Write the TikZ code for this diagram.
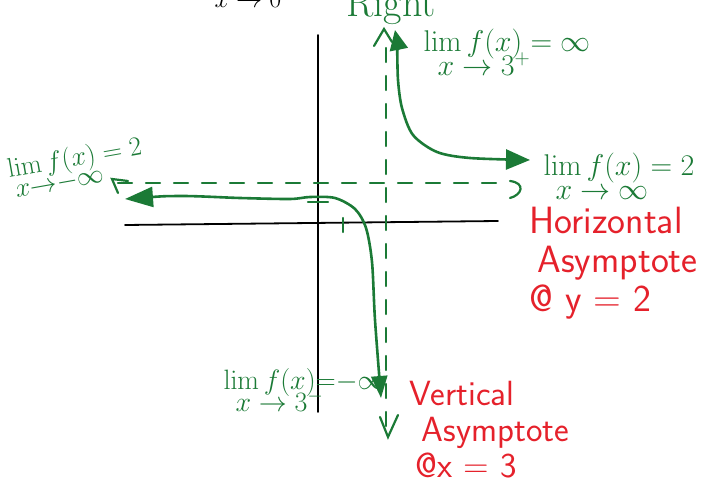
\RequirePackage{fix-cm}
\documentclass[tikz,border=0pt]{standalone}
\usepackage{tikz}
\usetikzlibrary{positioning,arrows.meta}
\definecolor{limgreen}{HTML}{1B7A36}
\definecolor{notered}{HTML}{E5212B}

\begin{document}
\begin{tikzpicture}[x=1pt,y=-1pt,line cap=round,
  lim/.style={limgreen,font=\fontsize{30}{32}\selectfont,align=left},
  asy/.style={limgreen,line width=2.4pt,dash pattern=on 14pt off 14pt},
  branch/.style={limgreen,line width=2.6pt},
  asynote/.style={notered,font=\fontsize{38}{39}\selectfont\sffamily,align=left,anchor=north west}]
\useasboundingbox (0,0) rectangle (722,494);
\draw[line width=1.8pt] (318,35)--(318,412); \draw[line width=1.8pt] (125,225)--(498,221);
\draw[asy] (118,183)--(510,183); \draw[asy] (386,48)--(386,432);
\draw[limgreen,line width=2.2pt] (510,181) .. controls (526,183) and (522,195) .. (510,198);
\draw[limgreen,line width=2.2pt] (128,181)--(112,179)--(118,193);
\draw[limgreen,line width=2.2pt] (374,46)--(384,29)--(392,42); \draw[limgreen,line width=2.2pt] (380,417)--(388,437)--(398,415);
\draw[limgreen,line width=2.2pt] (343,218)--(343,232) (308,202)--(328,202);
\draw[branch,{Triangle[length=28pt,width=20pt]}-{Triangle[length=22pt,width=16pt]}] plot[smooth] coordinates {(125,199) (180,196) (240,198) (290,199) (310,197) (335,198) (355,209) (366,228) (372,262) (375,320) (381,398)};
\draw[branch,{Triangle[length=20pt,width=18pt]}-{Triangle[length=24pt,width=20pt]}] plot[smooth] coordinates {(395,30) (397,45) (398,80) (402,108) (413,135) (437,152) (470,158) (530,160)};
\node (xzero) [anchor=base west,font=\fontsize{26}{28}\selectfont] at (211,8) {$x\to0$};
\node (right) [limgreen,anchor=base west,font=\fontsize{40}{42}\selectfont] at (343,17) {Right};
\node (limplus) [lim,anchor=west] at (420,52) {$\lim f(x)=\infty$\\[-8pt]\hspace*{14pt}$x\to3^{+}$};
\node (liminf) [lim,anchor=west] at (540,176) {$\lim f(x)=2$\\[-8pt]\hspace*{12pt}$x\to\infty$};
\node (limneginf) [lim,anchor=west,rotate=10,font=\fontsize{27}{29}\selectfont] at (6,180) {$\lim f(x)=2$\\[-8pt]\hspace*{4pt}$x{\to}{-}\infty$};
\node (limminus) [lim,anchor=west,font=\fontsize{28}{30}\selectfont] at (220,390) {$\lim f(x){=}{-}\infty$\\[-8pt]\hspace*{12pt}$x\to3^{-}$};
\node (horiz) [asynote] at (526,204) {Horizontal\\\hspace*{8pt}Asymptote\\@ y = 2};
\node (vert) [asynote,font=\fontsize{35}{36}\selectfont\sffamily] at (406,378) {Vertical\\\hspace*{12pt}Asymptote\\\hspace*{6pt}@x = 3};
\end{tikzpicture}
\end{document}
